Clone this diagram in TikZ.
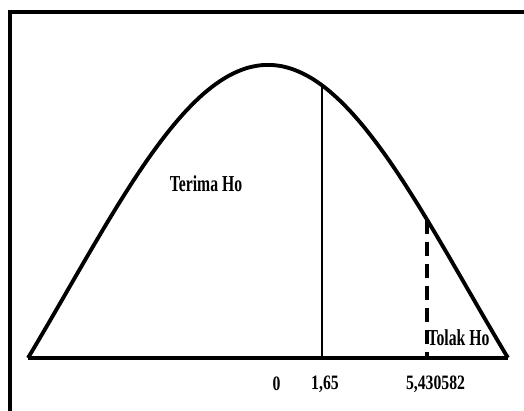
\documentclass[tikz,border=0pt]{standalone}
\usepackage{fontspec}
\setmainfont{Liberation Serif}
\usepackage{graphicx}
\usetikzlibrary{calc}
\newcommand{\tallbox}[2]{\scalebox{1}[#1]{#2}}

\begin{document}
\begin{tikzpicture}[x=0.75pt,y=-0.75pt,
  curve/.style={line width=2.9pt,line join=round},
  axis/.style={line width=3.3pt},
  lbl/.style={inner sep=0pt,font=\fontsize{11.8}{12}\selectfont\bfseries}]
\useasboundingbox (0,0) rectangle (524,410);
% frame
\draw[line width=2.8pt] (10,412) -- (10,12) -- (526,12);
% points on the axis and on the curve
\coordinate (left) at (28,358);
\coordinate (right) at (508,358);
\coordinate (crit) at (322,358);
\coordinate (critTop) at (322,85.5);
\coordinate (stat) at (427,358);
\coordinate (statTop) at (427,219.7);
\draw[curve] plot[domain=-2.4:2.4,samples=97,smooth,variable=\t]
  ({268+100*\t},{358-570.9*(exp(-\t*\t/8)-0.4868)});
\draw[axis] (left) -- (right);
\draw[line width=2.2pt] (crit) -- (critTop);
\draw[line width=2.6pt,dash pattern=on 10.5pt off 6pt] (statTop) -- (stat);
% labels
\node[lbl] (terima) at (206,184) {\tallbox{1.45}{Terima Ho}};
\node[lbl] (tolak) at (458.5,338) {\tallbox{1.45}{Tolak Ho}};
\node[lbl] (zero) at (276.5,384) {\tallbox{1.3}{0}};
\node[lbl] (critLbl) at (325,384) {\tallbox{1.3}{1,65}};
\node[lbl] (statLbl) at (435.5,384) {\tallbox{1.3}{5,430582}};
\end{tikzpicture}
\end{document}
